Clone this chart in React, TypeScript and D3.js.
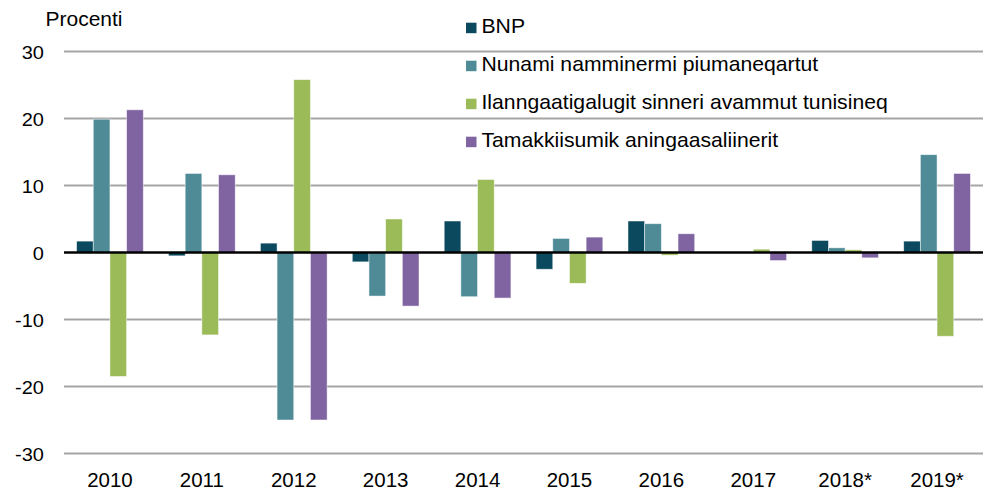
import React from "react";
import * as d3 from "d3";

const categories = ["2010", "2011", "2012", "2013", "2014", "2015", "2016", "2017", "2018*", "2019*"];
const seriesNames = [
  "BNP",
  "Nunami namminermi piumaneqartut",
  "Ilanngaatigalugit sinneri avammut tunisineq",
  "Tamakkiisumik aningaasaliinerit",
];
const bnp = [1.7, -0.5, 1.4, -1.4, 4.7, -2.5, 4.7, 0, 1.8, 1.7];
const nunami = [19.9, 11.8, -25.0, -6.5, -6.6, 2.1, 4.3, 0, 0.7, 14.6];
const ilanng = [-18.5, -12.3, 25.8, 5.0, 10.9, -4.6, -0.4, 0.5, 0.4, -12.5];
const tamak = [21.3, 11.6, -25.0, -8.0, -6.8, 2.3, 2.8, -1.2, -0.8, 11.8];
const yTicks = [-30, -20, -10, 0, 10, 20, 30];
const colors = ["#0b4a5e", "#4e8b97", "#9bbb59", "#8064a2"];
const seriesValues = [bnp, nunami, ilanng, tamak];

const W = 989;
const H = 492;
const FONT = "Liberation Sans, Arial, sans-serif";

export default function App() {
  const x0 = d3
    .scaleBand<string>()
    .domain(categories)
    .range([64, 983])
    .paddingInner(0.274)
    .paddingOuter(0.137);
  const x1 = d3
    .scaleBand<number>()
    .domain(d3.range(seriesNames.length))
    .range([0, x0.bandwidth()])
    .padding(0);
  const y = d3.scaleLinear().domain([-30, 30]).range([453.5, 51.5]);
  const [xl, xr] = x0.range();

  return (
    <svg
      width={W}
      height={H}
      style={{ position: "absolute", left: 0, top: 0, background: "#fff" }}
      fontFamily={FONT}
    >
      {/* gridlines */}
      {yTicks.filter((t) => t !== 0).map((t) => (
        <line key={t} x1={xl} x2={xr} y1={y(t)} y2={y(t)} stroke="#a5a5a5" strokeWidth={1.8} />
      ))}
      {/* y tick labels */}
      {yTicks.map((t) => (
        <text
          key={"yl" + t}
          x={44}
          y={y(t) + 7.5}
          textAnchor="end"
          fontSize={18.5}
          fill="#000"
          transform={`translate(44,0) scale(1.08,1) translate(-44,0)`}
        >
          {t}
        </text>
      ))}
      <text
        x={45.5}
        y={26}
        fontSize={20}
        fill="#000"
        transform={`translate(45.5,0) scale(1.05,1) translate(-45.5,0)`}
      >
        Procenti
      </text>
      {/* bars */}
      {categories.map((c, i) => (
        <g key={c} transform={`translate(${x0(c)},0)`}>
          {seriesValues.map((vals, s) => {
            const v = vals[i];
            const y0 = y(0);
            const yv = y(v);
            return (
              <rect
                key={s}
                x={x1(s)}
                width={x1.bandwidth()}
                y={Math.min(y0, yv)}
                height={Math.abs(yv - y0)}
                fill={colors[s]}
                stroke="#ffffff"
                strokeOpacity={0.6}
                strokeWidth={0.8}
              />
            );
          })}
        </g>
      ))}
      {/* zero line */}
      <line x1={xl} x2={xr} y1={y(0)} y2={y(0)} stroke="#000" strokeWidth={2.4} />
      {/* x labels */}
      {categories.map((c) => (
        <text
          key={"xl" + c}
          x={(x0(c) as number) + x0.bandwidth() / 2}
          y={486.5}
          textAnchor="middle"
          fontSize={20.5}
          fill="#000"
        >
          {c}
        </text>
      ))}
      {/* legend */}
      {seriesNames.map((n, s) => {
        const base = 33.3 + s * 38;
        return (
          <g key={n}>
            <rect x={466} y={base - 10.6} width={10.5} height={10.5} fill={colors[s]} />
            <text
              x={481.5}
              y={base}
              fontSize={20}
              fill="#000"
              transform={`translate(481.5,0) scale(1.06,1) translate(-481.5,0)`}
            >
              {n}
            </text>
          </g>
        );
      })}
    </svg>
  );
}
